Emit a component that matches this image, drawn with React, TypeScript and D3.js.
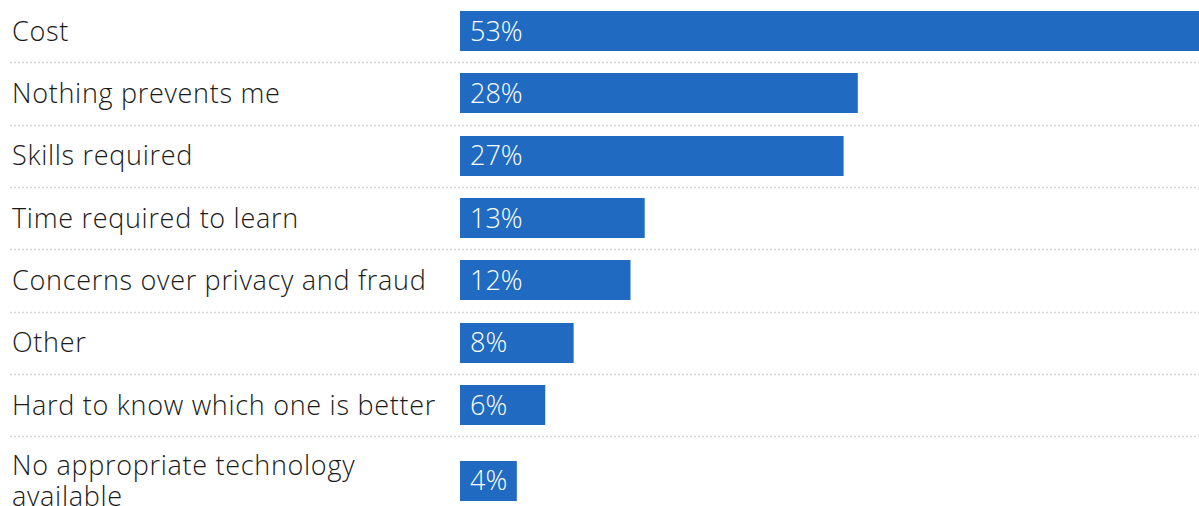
import React, { useEffect, useRef } from "react";
import * as d3 from "d3";

const categories = [
  "Cost",
  "Nothing prevents me",
  "Skills required",
  "Time required to learn",
  "Concerns over privacy and fraud",
  "Other",
  "Hard to know which one is better",
  "No appropriate technology available",
];
const values = [53, 28, 27, 13, 12, 8, 6, 4];
const valueLabels = ["53%", "28%", "27%", "13%", "12%", "8%", "6%", "4%"];

const W = 1199;
const H = 506;
const FONT = "'Open Sans', 'Noto Sans', sans-serif";
const FS = 27;
const LS = 0.7;

export default function App() {
  const ref = useRef<SVGSVGElement | null>(null);

  useEffect(() => {
    const svg = d3.select(ref.current);
    svg.selectAll("*").remove();

    const x = d3.scaleLinear().domain([0, 53]).range([460, 1213]);
    const labelMax = 440;

    const meas = svg
      .append("text")
      .attr("font-family", FONT)
      .attr("font-size", FS)
      .attr("font-weight", 300)
      .attr("letter-spacing", LS)
      .attr("visibility", "hidden");
    const wrapped = categories.map((c) => {
      const words = c.split(" ");
      const lines: string[] = [];
      let cur = "";
      for (const w of words) {
        const test = cur ? cur + " " + w : w;
        meas.text(test);
        const len = (meas.node() as SVGTextElement).getComputedTextLength();
        if (len > labelMax && cur) {
          lines.push(cur);
          cur = w;
        } else cur = test;
      }
      lines.push(cur);
      return lines;
    });
    meas.remove();

    const lineH = 31;
    const bandBase = 62.3;
    const extra = 27;
    let acc = 0;
    const bands = wrapped.map((lines) => {
      const h = bandBase + extra * (lines.length - 1);
      const b = { y0: acc, h, c: acc + h / 2 };
      acc += h;
      return b;
    });

    const g = svg.append("g");
    const barH = 40;

    g.selectAll("line.sep")
      .data(bands.slice(0, bands.length - 1))
      .join("line")
      .attr("x1", 10)
      .attr("x2", W)
      .attr("y1", (d) => Math.round(d.y0 + d.h) + 0.5)
      .attr("y2", (d) => Math.round(d.y0 + d.h) + 0.5)
      .attr("stroke", "#d6d6d6")
      .attr("stroke-width", 1.5)
      .attr("stroke-dasharray", "2,2");

    g.selectAll("rect.bar")
      .data(values)
      .join("rect")
      .attr("x", x(0))
      .attr("y", (_, i) => Math.round(bands[i].c - barH / 2))
      .attr("width", (d) => x(d) - x(0))
      .attr("height", barH)
      .attr("fill", "#206bc1");

    g.selectAll("text.val")
      .data(valueLabels)
      .join("text")
      .attr("x", x(0) + 10)
      .attr("y", (_, i) => bands[i].c)
      .attr("dy", "0.36em")
      .attr("fill", "#ffffff")
      .attr("font-family", FONT)
      .attr("font-size", FS)
      .attr("font-weight", 300)
      .text((d) => d);

    wrapped.forEach((lines, i) => {
      const t = g
        .append("text")
        .attr("font-family", FONT)
        .attr("font-size", FS)
        .attr("font-weight", 300)
        .attr("letter-spacing", LS)
        .attr("fill", "#1a1a1a");
      const start = bands[i].c - ((lines.length - 1) * lineH) / 2;
      lines.forEach((ln, j) => {
        t.append("tspan")
          .attr("x", 12)
          .attr("y", start + j * lineH)
          .attr("dy", "0.36em")
          .text(ln);
      });
    });
  }, []);

  return (
    <svg
      ref={ref}
      width={W}
      height={H}
      style={{ position: "absolute", left: 0, top: 0, background: "#fff" }}
    />
  );
}
